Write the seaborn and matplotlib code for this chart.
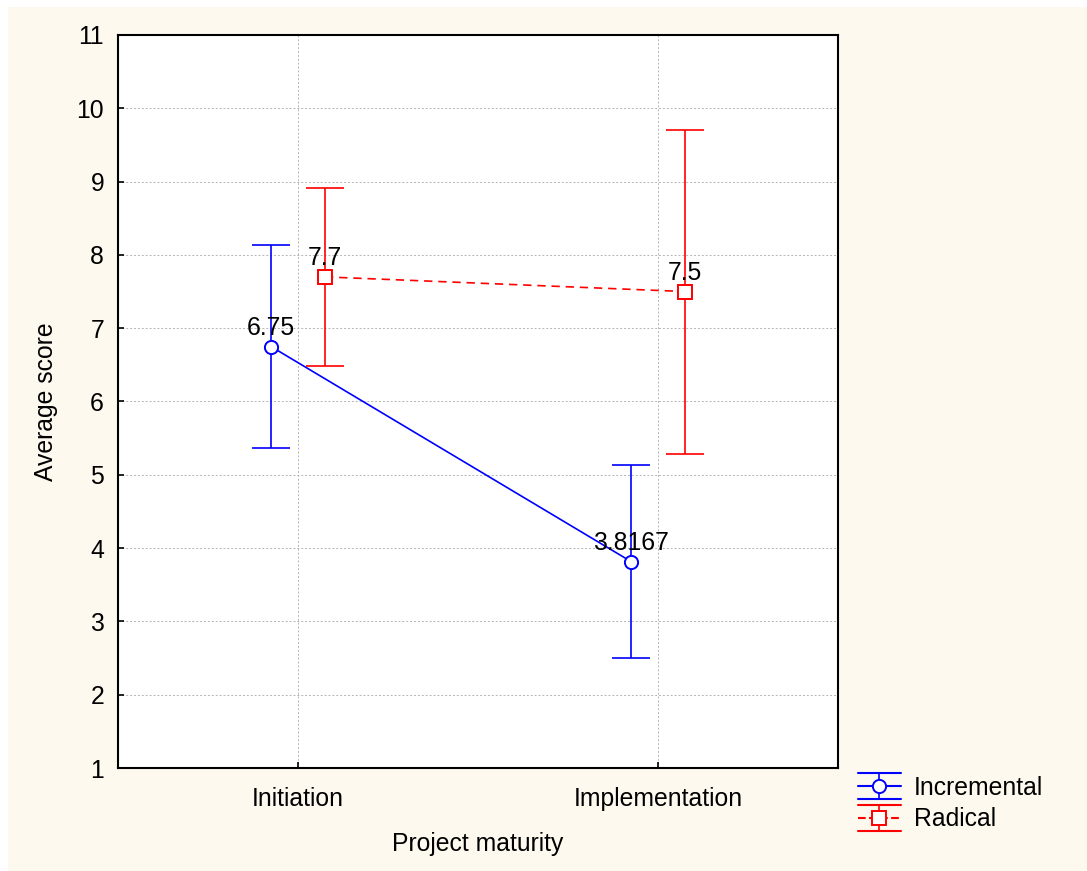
import matplotlib
matplotlib.use("Agg")
import numpy as np
import pandas as pd
import seaborn as sns
import matplotlib.pyplot as plt
from matplotlib.legend_handler import HandlerBase
from matplotlib.lines import Line2D
from matplotlib.patches import Rectangle

# ---------------- data ----------------
categories = ["Initiation", "Implementation"]
groups = ["Incremental", "Radical"]
incremental_mean = [6.75, 3.8167]
incremental_lower = [5.37, 2.50]
incremental_upper = [8.13, 5.13]
radical_mean = [7.7, 7.5]
radical_lower = [6.49, 5.28]
radical_upper = [8.91, 9.71]
incremental_labels = ["6.75", "3.8167"]
radical_labels = ["7.7", "7.5"]
yticks = list(range(1, 12))

# ---------------- style ----------------
colors = {"Incremental": "#0000ff", "Radical": "#ff0000"}
markers = {"Incremental": "o", "Radical": "s"}
offsets = {"Incremental": -0.075, "Radical": 0.075}
cream = "#fdf9ef"
FS = 17.8

sns.set_theme(style="white")
plt.rcParams["font.family"] = ["Liberation Sans", "DejaVu Sans"]
plt.rcParams["text.color"] = "black"

rows = []
for g, means, lows, ups, labs in [
    ("Incremental", incremental_mean, incremental_lower, incremental_upper, incremental_labels),
    ("Radical", radical_mean, radical_lower, radical_upper, radical_labels),
]:
    for i, c in enumerate(categories):
        rows.append(dict(group=g, category=c, idx=i, mean=means[i], lower=lows[i],
                         upper=ups[i], label=labs[i]))
df = pd.DataFrame(rows)
df["xpos"] = df["idx"] + df["group"].map(offsets)

fig = plt.figure(figsize=(10.87, 8.71), dpi=100, facecolor="white")
fig.patches.append(Rectangle((8 / 1087, 0), 1, 1 - 7 / 871, transform=fig.transFigure,
                             facecolor=cream, edgecolor="none", zorder=-10))
ax = fig.add_axes([118 / 1087, 1 - 768 / 871, 720 / 1087, 733 / 871])
ax.set_facecolor("white")

# lines + markers
sns.lineplot(data=df, x="xpos", y="mean", hue="group", style="group",
             palette=colors, markers=markers,
             dashes={"Incremental": "", "Radical": (5, 3.5)},
             markersize=9.5, linewidth=1.2, legend=False, errorbar=None,
             ax=ax, zorder=3)
for line in list(ax.lines):
    c = line.get_color()
    line.set_markeredgecolor(c)
    line.set_markerfacecolor("white")
    line.set_markeredgewidth(1.4)

# error bars
for g in groups:
    sub = df[df["group"] == g]
    ax.errorbar(sub["xpos"], sub["mean"],
                yerr=[sub["mean"] - sub["lower"], sub["upper"] - sub["mean"]],
                fmt="none", ecolor=colors[g], elinewidth=1.2, capthick=1.2,
                capsize=13.7, zorder=2)

# value labels
for _, r in df.iterrows():
    ax.annotate(r["label"], (r["xpos"], r["mean"]), xytext=(0, 5),
                textcoords="offset points", ha="center", va="bottom",
                fontsize=FS, color="black", zorder=4)

ax.set_xlim(-0.5, 1.5)
ax.set_ylim(1, 11)
ax.set_yticks(yticks)
ax.set_yticklabels([str(t) for t in yticks])
ax.set_xticks(range(len(categories)))
ax.set_xticklabels(categories)
ax.grid(True, color="#b4b4b4", linestyle=(0, (2, 2)), linewidth=0.7)
ax.set_axisbelow(True)
ax.tick_params(axis="both", direction="in", length=4, width=1.2, colors="black",
               labelsize=FS, bottom=True, left=True, top=False, right=False)
ax.tick_params(axis="y", pad=10)
ax.tick_params(axis="x", pad=14)
for s in ax.spines.values():
    s.set_color("black")
    s.set_linewidth(1.5)
ax.set_xlabel("Project maturity", fontsize=FS, labelpad=15, color="black")
ax.set_ylabel("Average score", fontsize=FS, labelpad=13, color="black")


# legend with errorbar-style handles
class ErrHandler(HandlerBase):
    def create_artists(self, legend, orig, xdescent, ydescent, width, height,
                       fontsize, trans):
        c = orig.get_color()
        m = orig.get_marker()
        ls = orig.get_linestyle()
        x0 = -xdescent
        x1 = x0 + width
        xm = (x0 + x1) / 2
        cy = height / 2 - ydescent
        h = 9.4
        arts = [
            Line2D([x0, x1], [cy + h, cy + h], color=c, lw=1.5),
            Line2D([x0, x1], [cy - h, cy - h], color=c, lw=1.5),
            Line2D([xm, xm], [cy - h, cy + h], color=c, lw=1.2),
            Line2D([x0, x1], [cy, cy], color=c, lw=1.5, linestyle=ls),
            Line2D([xm], [cy], marker=m, markersize=9.5, markerfacecolor="white",
                   markeredgecolor=c, markeredgewidth=1.4, linestyle="none"),
        ]
        for a in arts:
            a.set_transform(trans)
        return arts


handles = [
    Line2D([], [], color=colors["Incremental"], marker="o", linestyle="-"),
    Line2D([], [], color=colors["Radical"], marker="s", linestyle=(0, (3, 2))),
]
fig.legend(handles, groups, loc="upper left",
           bbox_to_anchor=(858 / 1087, 1 - 776 / 871), frameon=False,
           fontsize=FS, handlelength=1.72, handletextpad=0.55, labelspacing=0.3,
           borderpad=0, borderaxespad=0, labelcolor="black",
           handler_map={Line2D: ErrHandler()})

fig.savefig("out.png", dpi=100, facecolor=fig.get_facecolor())
